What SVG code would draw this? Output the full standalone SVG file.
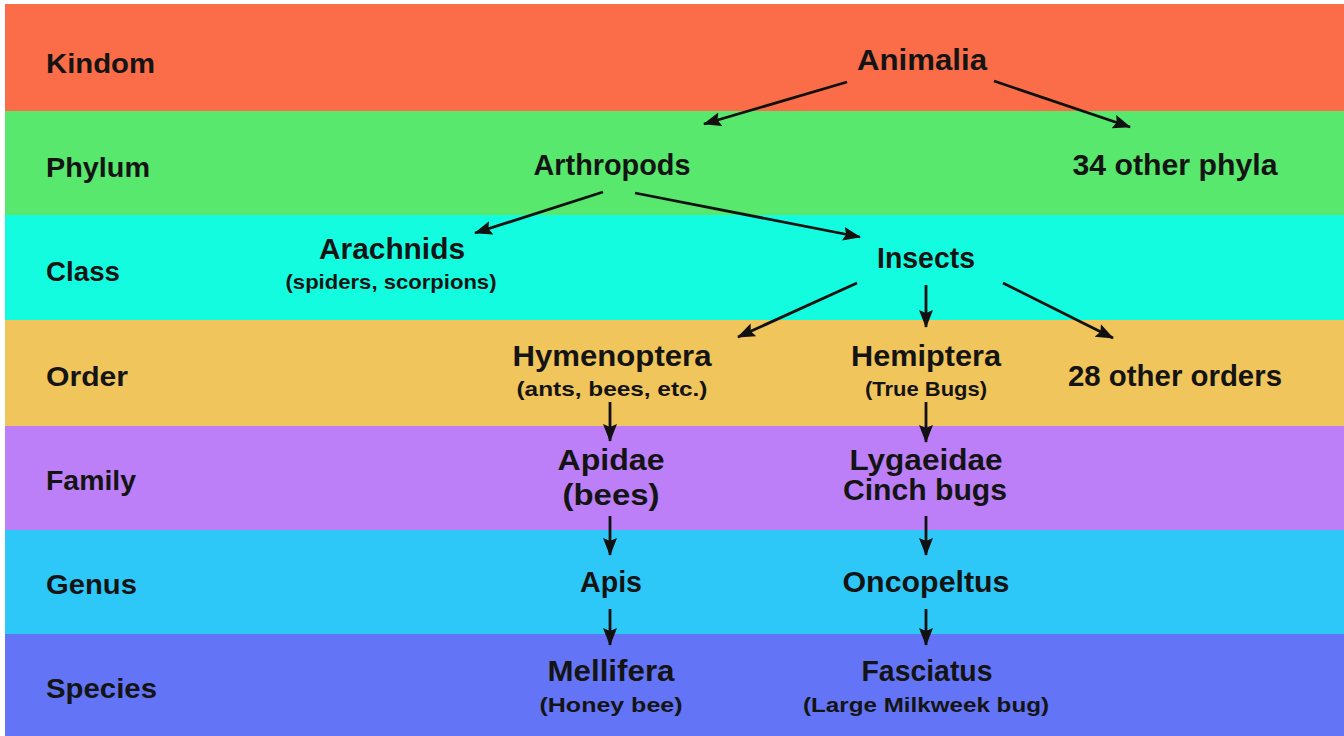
<svg xmlns="http://www.w3.org/2000/svg" width="1344" height="736" viewBox="0 0 1344 736">
<defs>
<style>
text{font-family:"Liberation Sans",Arial,sans-serif;font-weight:bold;fill:#141414}
.lab{font-size:28px}
.m{font-size:29px;text-anchor:middle}
.s{font-size:21px;text-anchor:middle}
.c{stroke:#111;stroke-width:2.8;fill:none;marker-end:url(#ah)}
</style>
<marker id="ah" markerUnits="userSpaceOnUse" markerWidth="20" markerHeight="16" refX="17" refY="7" orient="auto">
<path d="M0,0 L18,7 L0,14 L3,7 z" fill="#111"/>
</marker>
</defs>
<rect x="0" y="0" width="1344" height="736" fill="#fff"/>
<g id="bands">
<rect x="5" y="4" width="1339" height="107" fill="#FA6D48"/>
<rect x="5" y="111" width="1339" height="104" fill="#57E86D"/>
<rect x="5" y="215" width="1339" height="105" fill="#14FCE0"/>
<rect x="5" y="320" width="1339" height="106" fill="#F0C55B"/>
<rect x="5" y="426" width="1339" height="104" fill="#BC7FF8"/>
<rect x="5" y="530" width="1339" height="104" fill="#2DC8F8"/>
<rect x="5" y="634" width="1339" height="102" fill="#6374F6"/>
</g>
<g id="rank-labels">
<text class="lab" x="46" y="73" textLength="109" lengthAdjust="spacingAndGlyphs">Kindom</text>
<text class="lab" x="46" y="177" textLength="104" lengthAdjust="spacingAndGlyphs">Phylum</text>
<text class="lab" x="46" y="281" textLength="74" lengthAdjust="spacingAndGlyphs">Class</text>
<text class="lab" x="46" y="386" textLength="82" lengthAdjust="spacingAndGlyphs">Order</text>
<text class="lab" x="46" y="490" textLength="90" lengthAdjust="spacingAndGlyphs">Family</text>
<text class="lab" x="46" y="594" textLength="91" lengthAdjust="spacingAndGlyphs">Genus</text>
<text class="lab" x="46" y="698" textLength="111" lengthAdjust="spacingAndGlyphs">Species</text>
</g>
<g id="connectors">
<line class="c" x1="847" y1="82" x2="704" y2="124"/>
<line class="c" x1="994" y1="81" x2="1130" y2="127"/>
<line class="c" x1="603" y1="192" x2="475" y2="233"/>
<line class="c" x1="635" y1="193" x2="860" y2="237"/>
<line class="c" x1="857" y1="283" x2="738" y2="337"/>
<line class="c" x1="926" y1="285" x2="926" y2="327"/>
<line class="c" x1="1003" y1="283" x2="1113" y2="338"/>
<line class="c" x1="610" y1="402" x2="610" y2="441"/>
<line class="c" x1="926" y1="402" x2="926" y2="442"/>
<line class="c" x1="610" y1="516" x2="610" y2="555"/>
<line class="c" x1="926" y1="516" x2="926" y2="555"/>
<line class="c" x1="610" y1="609" x2="610" y2="645"/>
<line class="c" x1="926" y1="609" x2="926" y2="645"/>
</g>
<g id="node-animalia"><text class="m" x="922" y="70" textLength="130" lengthAdjust="spacingAndGlyphs">Animalia</text></g>
<g id="node-arthropods"><text class="m" x="612" y="175" textLength="157" lengthAdjust="spacingAndGlyphs">Arthropods</text></g>
<g id="node-other-phyla"><text class="m" x="1175" y="175" textLength="205" lengthAdjust="spacingAndGlyphs">34 other phyla</text></g>
<g id="node-arachnids">
<text class="m" x="392" y="259" textLength="146" lengthAdjust="spacingAndGlyphs">Arachnids</text>
<text class="s" x="391" y="289" textLength="211" lengthAdjust="spacingAndGlyphs">(spiders, scorpions)</text>
</g>
<g id="node-insects"><text class="m" x="926" y="268" textLength="98" lengthAdjust="spacingAndGlyphs">Insects</text></g>
<g id="node-hymenoptera">
<text class="m" x="612" y="366" textLength="199" lengthAdjust="spacingAndGlyphs">Hymenoptera</text>
<text class="s" x="612" y="396" textLength="191" lengthAdjust="spacingAndGlyphs">(ants, bees, etc.)</text>
</g>
<g id="node-hemiptera">
<text class="m" x="926" y="366" textLength="150" lengthAdjust="spacingAndGlyphs">Hemiptera</text>
<text class="s" x="926" y="396" textLength="122" lengthAdjust="spacingAndGlyphs">(True Bugs)</text>
</g>
<g id="node-other-orders"><text class="m" x="1175" y="386" textLength="214" lengthAdjust="spacingAndGlyphs">28 other orders</text></g>
<g id="node-apidae">
<text class="m" x="611" y="470" textLength="107" lengthAdjust="spacingAndGlyphs">Apidae</text>
<text class="m" x="611" y="505" textLength="97" lengthAdjust="spacingAndGlyphs">(bees)</text>
</g>
<g id="node-lygaeidae">
<text class="m" x="926" y="470" textLength="153" lengthAdjust="spacingAndGlyphs">Lygaeidae</text>
<text class="m" x="925" y="500" textLength="164" lengthAdjust="spacingAndGlyphs">Cinch bugs</text>
</g>
<g id="node-apis"><text class="m" x="611" y="592" textLength="62" lengthAdjust="spacingAndGlyphs">Apis</text></g>
<g id="node-oncopeltus"><text class="m" x="926" y="592" textLength="167" lengthAdjust="spacingAndGlyphs">Oncopeltus</text></g>
<g id="node-mellifera">
<text class="m" x="611" y="681" textLength="127" lengthAdjust="spacingAndGlyphs">Mellifera</text>
<text class="s" x="611" y="712" textLength="143" lengthAdjust="spacingAndGlyphs">(Honey bee)</text>
</g>
<g id="node-fasciatus">
<text class="m" x="927" y="681" textLength="131" lengthAdjust="spacingAndGlyphs">Fasciatus</text>
<text class="s" x="926" y="712" textLength="246" lengthAdjust="spacingAndGlyphs">(Large Milkweek bug)</text>
</g>
</svg>
